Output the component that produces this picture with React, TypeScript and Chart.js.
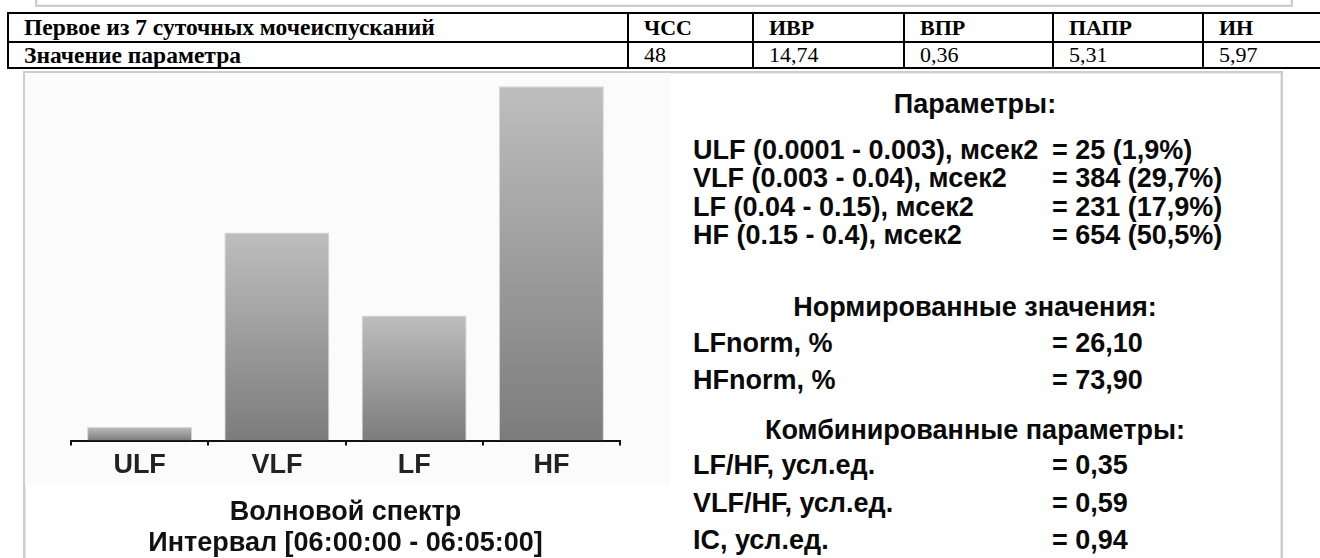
import React, { useEffect, useRef } from "react";
import { Chart, registerables } from "chart.js";

Chart.register(...registerables);

// ---------- data ----------
const tableHeaderRow = ["Первое из 7 суточных мочеиспусканий", "ЧСС", "ИВР", "ВПР", "ПАПР", "ИН"];
const tableValueRow = ["Значение параметра", "48", "14,74", "0,36", "5,31", "5,97"];

const categories = ["ULF", "VLF", "LF", "HF"];
const spectrumValues = [25, 384, 231, 654];
const chartCaption = ["Волновой спектр", "Интервал [06:00:00 - 06:05:00]"];

const paramsTitle = "Параметры:";
const paramLabels = [
  "ULF (0.0001 - 0.003), мсек2",
  "VLF (0.003 - 0.04), мсек2",
  "LF (0.04 - 0.15), мсек2",
  "HF (0.15 - 0.4), мсек2",
];
const paramValues = ["= 25 (1,9%)", "= 384 (29,7%)", "= 231 (17,9%)", "= 654 (50,5%)"];

const normTitle = "Нормированные значения:";
const normLabels = ["LFnorm, %", "HFnorm, %"];
const normValues = ["= 26,10", "= 73,90"];

const combTitle = "Комбинированные параметры:";
const combLabels = ["LF/HF, усл.ед.", "VLF/HF, усл.ед.", "IC, усл.ед."];
const combValues = ["= 0,35", "= 0,59", "= 0,94"];

// ---------- layout ----------
const colWidths = [620, 125, 151, 149, 150, 170];
const rowHeights = [29, 26];
const TEXT_FONT = "'Liberation Sans', Arial, sans-serif";
const SERIF = "'Liberation Serif', 'Times New Roman', serif";

const headingY = [104, 307, 430];
const paramY = [150, 178, 207, 235];
const normY = [343, 380];
const combY = [465, 503, 540];

function BarChart() {
  const ref = useRef<HTMLCanvasElement | null>(null);
  useEffect(() => {
    if (!ref.current) return;
    const chart = new Chart(ref.current, {
      type: "bar",
      data: {
        labels: categories,
        datasets: [
          {
            data: spectrumValues,
            backgroundColor: (ctx: any) => {
              const ch = ctx.chart;
              const y = ch.scales && ch.scales.y;
              if (!y || ctx.type !== "data") return "#a0a0a0";
              const top = y.getPixelForValue(ctx.raw);
              const bottom = y.getPixelForValue(0);
              if (!isFinite(top) || !isFinite(bottom) || top === bottom) return "#a0a0a0";
              const g = ch.ctx.createLinearGradient(0, top, 0, bottom);
              g.addColorStop(0, "#bebebe");
              g.addColorStop(1, "#7c7c7c");
              return g;
            },
            borderColor: "#d6d6d6",
            borderWidth: 1,
            barPercentage: 0.765,
            categoryPercentage: 1,
          },
        ],
      },
      options: {
        animation: false,
        responsive: false,
        devicePixelRatio: 1,
        layout: { padding: { left: 46, right: 50, top: 9, bottom: 0 } },
        plugins: {
          legend: { display: false },
          tooltip: { enabled: false },
          title: {
            display: true,
            position: "bottom",
            text: chartCaption,
            color: "#111",
            font: { family: TEXT_FONT, size: 27, weight: "bold", lineHeight: 1.15 },
            padding: { top: 11, bottom: 0 },
          },
        },
        scales: {
          y: { display: false, min: 0, max: 660 },
          x: {
            grid: {
              display: true,
              drawOnChartArea: false,
              drawTicks: true,
              tickLength: 5,
              color: "#111",
              lineWidth: 2,
            },
            border: { display: true, color: "#111", width: 2 },
            ticks: {
              color: "#222",
              padding: 4,
              font: { family: TEXT_FONT, size: 27, weight: "bold" },
            },
          },
        },
      },
    });
    chart.update();
    return () => chart.destroy();
  }, []);
  return (
    <canvas
      ref={ref}
      width={645}
      height={485}
      style={{ position: "absolute", left: 25, top: 74, width: 645, height: 485 }}
    />
  );
}

const lineStyle = (cy: number): React.CSSProperties => ({
  position: "absolute",
  top: cy - 14,
  height: 28,
  lineHeight: "28px",
  fontFamily: TEXT_FONT,
  fontWeight: "bold",
  fontSize: 27,
  color: "#0a0a0a",
  whiteSpace: "nowrap",
});

function Heading({ text, cy }: { text: string; cy: number }) {
  return <div style={{ ...lineStyle(cy), left: 693, width: 564, textAlign: "center" }}>{text}</div>;
}

function Row({ label, value, cy }: { label: string; value: string; cy: number }) {
  return (
    <>
      <div style={{ ...lineStyle(cy), left: 693 }}>{label}</div>
      <div style={{ ...lineStyle(cy), left: 1052 }}>{value}</div>
    </>
  );
}

export default function App() {
  const cellStyle = (i: number, r: number): React.CSSProperties => ({
    width: colWidths[i],
    minWidth: colWidths[i],
    maxWidth: colWidths[i],
    height: rowHeights[r],
    border: "2px solid #000",
    padding: i === 0 ? "0 0 0 15px" : "0 0 0 15px",
    fontFamily: SERIF,
    fontSize: i === 0 ? 23.5 : 22,
    fontWeight: r === 0 || i === 0 ? "bold" : "normal",
    lineHeight: rowHeights[r] - 2 + "px",
    whiteSpace: "nowrap",
    overflow: "hidden",
    textAlign: "left",
    verticalAlign: "middle",
    boxSizing: "border-box",
    color: "#000",
  });
  return (
    <div
      style={{
        position: "fixed",
        left: 0,
        top: 0,
        width: 1320,
        height: 558,
        overflow: "hidden",
        background: "#fff",
      }}
    >
      <div
        style={{
          position: "absolute",
          left: 35,
          top: -20,
          width: 1258,
          height: 27,
          boxSizing: "border-box",
          border: "2px solid #cdcdcd",
          boxShadow: "inset 0 0 0 1px #ececec",
          background: "#fefefe",
        }}
      />
      <table
        style={{
          position: "absolute",
          left: 7,
          top: 12,
          borderCollapse: "collapse",
          tableLayout: "fixed",
        }}
      >
        <tbody>
          <tr>
            {tableHeaderRow.map((t, i) => (
              <td key={i} style={cellStyle(i, 0)}>
                {t}
              </td>
            ))}
          </tr>
          <tr>
            {tableValueRow.map((t, i) => (
              <td key={i} style={cellStyle(i, 1)}>
                {t}
              </td>
            ))}
          </tr>
        </tbody>
      </table>
      <div
        style={{
          position: "absolute",
          left: 23,
          top: 71,
          width: 1260,
          height: 520,
          boxSizing: "border-box",
          border: "2px solid #cdcdcd",
          boxShadow: "inset 0 0 0 1px #e8e8e8",
          background: "#fff",
        }}
      />
      <div style={{ position: "absolute", left: 25, top: 73, width: 645, height: 412, background: "#fbfbfb" }} />
      <BarChart />
      <Heading text={paramsTitle} cy={headingY[0]} />
      {paramLabels.map((l, i) => (
        <Row key={"p" + i} label={l} value={paramValues[i]} cy={paramY[i]} />
      ))}
      <Heading text={normTitle} cy={headingY[1]} />
      {normLabels.map((l, i) => (
        <Row key={"n" + i} label={l} value={normValues[i]} cy={normY[i]} />
      ))}
      <Heading text={combTitle} cy={headingY[2]} />
      {combLabels.map((l, i) => (
        <Row key={"c" + i} label={l} value={combValues[i]} cy={combY[i]} />
      ))}
    </div>
  );
}
